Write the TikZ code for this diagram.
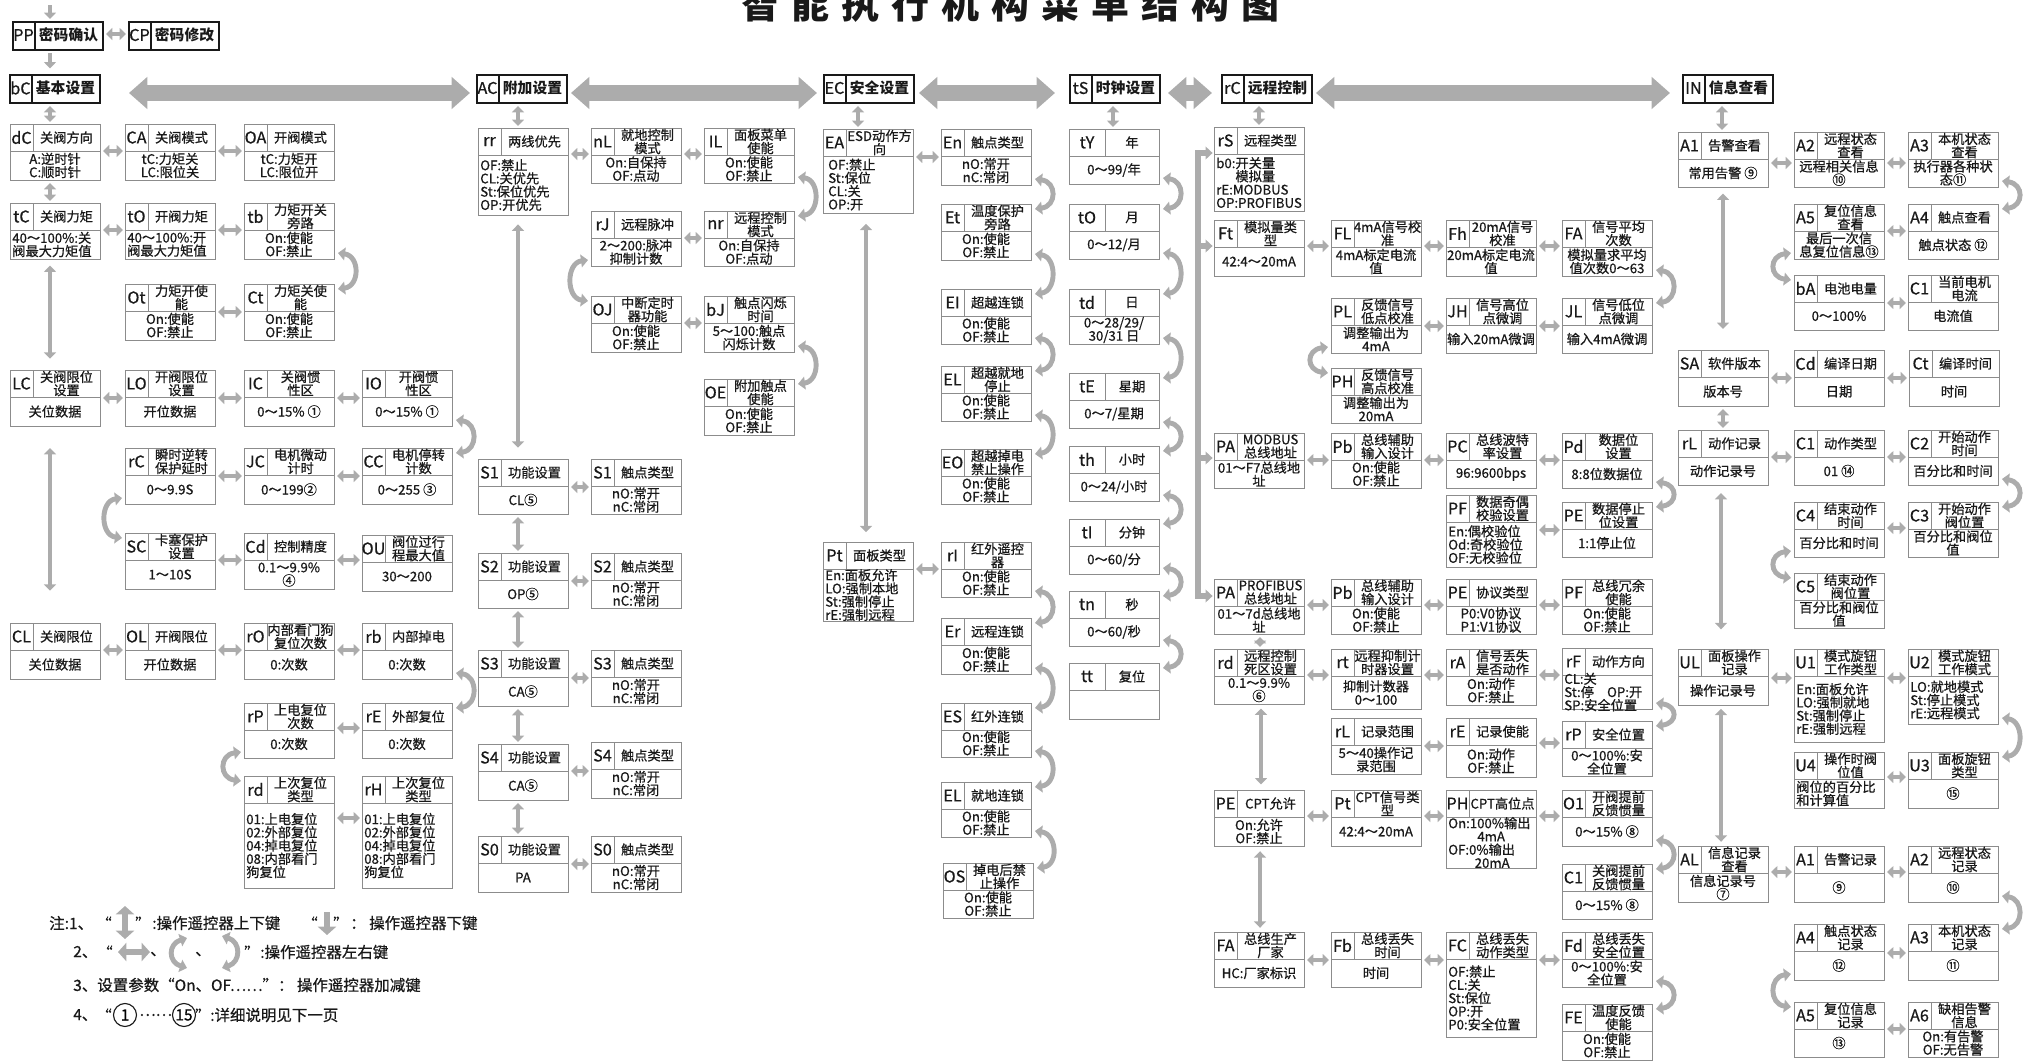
\documentclass[tikz,border=0pt]{standalone}
\usepackage{fontspec}
\setmainfont{Noto Sans CJK SC}
\newfontfamily\cellfont{Noto Sans CJK SC}[FakeBold=0.7]
\usetikzlibrary{arrows.meta}

\definecolor{arrowgray}{RGB}{172,172,172}
\definecolor{boxgray}{RGB}{140,140,140}
\definecolor{inkgray}{RGB}{25,25,25}

% one pixel of the drawing; box width, code cell width, header height
\def\px{0.025cm}
\def\bw{90}
\def\cw{23}
\def\hh{27}

\tikzset{
  cell/.style={rectangle,draw=boxgray,line width=0.7pt,anchor=north west,inner sep=0pt},
  cellline/.style={draw=boxgray,line width=0.7pt},
  topcell/.style={rectangle,draw=inkgray,line width=1.4pt,anchor=north west,inner sep=0pt},
  topline/.style={draw=inkgray,line width=1.4pt},
  celltxt/.style={font=\cellfont\fontsize{9.4}{9.4}\selectfont,text=inkgray,align=center,inner sep=0pt},
  codetxt/.style={font=\cellfont\fontsize{11.5}{11.5}\selectfont,text=inkgray,inner sep=0pt},
  toptxt/.style={font=\fontsize{10.5}{10.5}\selectfont\bfseries,text=inkgray,inner sep=0pt},
  titletxt/.style={font=\fontsize{27}{27}\selectfont\bfseries,text=inkgray,anchor=base,inner sep=0pt},
  notetxt/.style={font=\cellfont\fontsize{11}{11}\selectfont,text=inkgray,anchor=west,inner sep=0pt},
  dlink/.style={draw=arrowgray,line width=3.2pt,>={Triangle[width=8.5pt,length=4.5pt]},<->,shorten <=1.5pt,shorten >=1.5pt},
  clink/.style={draw=arrowgray,line width=3.5pt,>={Triangle[width=9pt,length=5pt]},<->},
  biglink/.style={draw=arrowgray,line width=12pt,>={Triangle[width=22pt,length=13pt]},<->},
  bus/.style={draw=arrowgray,line width=4pt,>={Triangle[width=9pt,length=5pt]}},
  legarrow/.style={draw=arrowgray,line width=4.5pt,>={Triangle[width=13pt,length=6pt]}},
}

% menu box: [c|l]{name}{x,y}{height}{code}{title}{body}
\newcommand{\menuitem}[7][c]{%
  \node[cell,minimum width=\bw*\px,minimum height=#4*\px] (#2) at (#3) {};
  \draw[cellline] ([shift={(0,\hh)}]#2.north west) -- ([shift={(0,\hh)}]#2.north east);
  \draw[cellline] ([shift={(\cw,0)}]#2.north west) -- ([shift={(\cw,\hh)}]#2.north west);
  \node[codetxt] (#2-c) at ([shift={(\cw/2,\hh/2)}]#2.north west) {#5};
  \node[celltxt] (#2-t) at ([shift={({(\bw+\cw)/2},\hh/2)}]#2.north west) {#6};
  \if#1l%
    \node[celltxt,align=left,anchor=west] (#2-b) at ([shift={(2,{(#4+\hh)/2})}]#2.north west) {#7};
  \else
    \node[celltxt] (#2-b) at ([shift={(\bw/2,{(#4+\hh)/2})}]#2.north west) {#7};
  \fi
}
% top menu box: {name}{x,y}{code}{title}
\newcommand{\topitem}[4]{%
  \node[topcell,minimum width=90*\px,minimum height=28*\px] (#1) at (#2) {};
  \draw[topline] ([shift={(23,0)}]#1.north west) -- ([shift={(23,0)}]#1.south west);
  \node[codetxt] (#1-c) at ([shift={(11.5,14)}]#1.north west) {#3};
  \node[toptxt] (#1-t) at ([shift={(56.5,14)}]#1.north west) {#4};
}
\newcommand{\hlink}[3][27]{%
  \path ([shift={(0,#1)}]#2.north east) coordinate (htmp);
  \draw[dlink] (htmp) -- (htmp -| #3.west);
}
\newcommand{\vlink}[4][]{%
  \path ([shift={(#2,0)}]#3.south west) coordinate (vtmp);
  \draw[dlink,#1] (vtmp) -- (vtmp |- #4.north);
}
\newcommand{\rcurve}[2]{\draw[clink] ([shift={(3,-7)}]#1.south east) .. controls +(22,3) and +(22,-3) .. ([shift={(3,5)}]#2.north east);}
\newcommand{\lcurve}[2]{\draw[clink] ([shift={(-3,-7)}]#1.south west) .. controls +(-22,3) and +(-22,-3) .. ([shift={(-3,5)}]#2.north west);}

\begin{document}
\begin{tikzpicture}[x=0.025cm,y=-0.025cm]
  \useasboundingbox (0,0) rectangle (2027,1060);

  % 标题
  \foreach \ch [count=\k] in {智,能,执,行,机,构,菜,单,结,构,图}
    \node[titletxt] (ttl\k) at ({760+(\k-1)*50},18) {\ch};

  % 顶层菜单
  \topitem{pwd}{12,21}{PP}{密码确认}
  \topitem{pwdmod}{128,21}{CP}{密码修改}
  \topitem{basic}{9,74}{bC}{基本设置}
  \topitem{extra}{476,74}{AC}{附加设置}
  \topitem{safety}{823,74}{EC}{安全设置}
  \topitem{clock}{1069,74}{tS}{时钟设置}
  \topitem{remote}{1221,74}{rC}{远程控制}
  \topitem{info}{1682,74}{IN}{信息查看}

  \coordinate (entry) at (50,3);
  \draw[dlink,->] (entry) -- (entry |- pwd.north);
  \hlink[13]{pwd}{pwdmod}
  \vlink[->,shorten >=4pt]{38}{pwd}{basic}
  \draw[biglink] ([shift={(28,4)}]basic.east) -- ([shift={(-6,4)}]extra.west);
  \draw[biglink] ([shift={(3,4)}]extra.east) -- ([shift={(-6,4)}]safety.west);
  \draw[biglink] ([shift={(4,4)}]safety.east) -- ([shift={(-14,4)}]clock.west);
  \draw[biglink] ([shift={(7,4)}]clock.east) -- ([shift={(-9,4)}]remote.west);
  \draw[biglink] ([shift={(3,4)}]remote.east) -- ([shift={(-12,4)}]info.west);

  % 基本设置
  \menuitem{b-dC}{10,124}{56}{dC}{关阀方向}{A:逆时针\\C:顺时针}
  \menuitem{b-CA}{125,124}{56}{CA}{关阀模式}{tC:力矩关\\LC:限位关}
  \menuitem{b-OA}{244,124}{56}{OA}{开阀模式}{tC:力矩开\\LC:限位开}
  \menuitem[l]{b-tC}{10,203}{56}{tC}{关阀力矩}{40～100\%:关\\阀最大力矩值}
  \menuitem[l]{b-tO}{125,203}{56}{tO}{开阀力矩}{40～100\%:开\\阀最大力矩值}
  \menuitem{b-tb}{244,203}{56}{tb}{力矩开关\\旁路}{On:使能\\OF:禁止}
  \menuitem{b-Ot}{125,284}{56}{Ot}{力矩开使\\能}{On:使能\\OF:禁止}
  \menuitem{b-Ct}{244,284}{56}{Ct}{力矩关使\\能}{On:使能\\OF:禁止}
  \menuitem{b-LC}{10,370}{56}{LC}{关阀限位\\设置}{关位数据}
  \menuitem{b-LO}{125,370}{56}{LO}{开阀限位\\设置}{开位数据}
  \menuitem{b-IC}{244,370}{56}{IC}{关阀惯\\性区}{0～15\%\ ①}
  \menuitem{b-IO}{362,370}{56}{IO}{开阀惯\\性区}{0～15\%\ ①}
  \menuitem{b-rC}{125,448}{56}{rC}{瞬时逆转\\保护延时}{0～9.9S}
  \menuitem{b-JC}{244,448}{56}{JC}{电机微动\\计时}{0～199②}
  \menuitem{b-CC}{362,448}{56}{CC}{电机停转\\计数}{0～255\ ③}
  \menuitem{b-SC}{125,533}{56}{SC}{卡塞保护\\设置}{1～10S}
  \menuitem{b-Cd}{244,533}{56}{Cd}{控制精度}{0.1～9.9\%\\④}
  \menuitem{b-OU}{362,535}{56}{OU}{阀位过行\\程最大值}{30～200}
  \menuitem{b-CL}{10,623}{56}{CL}{关阀限位}{关位数据}
  \menuitem{b-OL}{125,623}{56}{OL}{开阀限位}{开位数据}
  \menuitem{b-rO}{244,623}{56}{rO}{内部看门狗\\复位次数}{0:次数}
  \menuitem{b-rb}{362,623}{56}{rb}{内部掉电}{0:次数}
  \menuitem{b-rP}{244,703}{55}{rP}{上电复位\\次数}{0:次数}
  \menuitem{b-rE}{362,703}{55}{rE}{外部复位}{0:次数}
  \menuitem[l]{b-rd}{244,776}{112}{rd}{上次复位\\类型}{01:上电复位\\02:外部复位\\04:掉电复位\\08:内部看门\\狗复位}
  \menuitem[l]{b-rH}{362,776}{112}{rH}{上次复位\\类型}{01:上电复位\\02:外部复位\\04:掉电复位\\08:内部看门\\狗复位}

  \vlink{41}{basic}{b-dC}
  \vlink{40}{b-dC}{b-tC}
  \vlink[shorten <=4pt,shorten >=8pt]{40}{b-tC}{b-LC}
  \vlink[shorten <=15pt,shorten >=23pt]{40}{b-LC}{b-CL}
  \hlink{b-dC}{b-CA} \hlink{b-CA}{b-OA}
  \hlink{b-tC}{b-tO} \hlink{b-tO}{b-tb}
  \hlink[28]{b-Ot}{b-Ct}
  \hlink[28]{b-LC}{b-LO} \hlink[28]{b-LO}{b-IC} \hlink[28]{b-IC}{b-IO}
  \hlink[28]{b-rC}{b-JC} \hlink[28]{b-JC}{b-CC}
  \hlink{b-SC}{b-Cd} \hlink{b-Cd}{b-OU}
  \hlink{b-CL}{b-OL} \hlink{b-OL}{b-rO} \hlink{b-rO}{b-rb}
  \hlink[25]{b-rP}{b-rE}
  \hlink[42]{b-rd}{b-rH}
  \rcurve{b-tb}{b-Ct}
  \rcurve{b-IO}{b-CC}
  \lcurve{b-rC}{b-SC}
  \rcurve{b-rb}{b-rE}
  \lcurve{b-rP}{b-rd}

  % 附加设置
  \menuitem[l]{a-rr}{478,128}{87}{rr}{两线优先}{OF:禁止\\CL:关优先\\St:保位优先\\OP:开优先}
  \menuitem{a-nL}{591,128}{55}{nL}{就地控制\\模式}{On:自保持\\OF:点动}
  \menuitem{a-IL}{704,128}{55}{IL}{面板菜单\\使能}{On:使能\\OF:禁止}
  \menuitem{a-rJ}{591,211}{55}{rJ}{远程脉冲}{2～200:脉冲\\抑制计数}
  \menuitem{a-nr}{704,211}{55}{nr}{远程控制\\模式}{On:自保持\\OF:点动}
  \menuitem{a-OJ}{591,296}{56}{OJ}{中断定时\\器功能}{On:使能\\OF:禁止}
  \menuitem{a-bJ}{704,296}{56}{bJ}{触点闪烁\\时间}{5～100:触点\\闪烁计数}
  \menuitem{a-OE}{704,379}{56}{OE}{附加触点\\使能}{On:使能\\OF:禁止}
  \menuitem{a-S1f}{478,459}{55}{S1}{功能设置}{CL⑤}
  \menuitem{a-S1}{591,459}{55}{S1}{触点类型}{nO:常开\\nC:常闭}
  \menuitem{a-S2f}{478,553}{55}{S2}{功能设置}{OP⑤}
  \menuitem{a-S2}{591,553}{55}{S2}{触点类型}{nO:常开\\nC:常闭}
  \menuitem{a-S3f}{478,650}{56}{S3}{功能设置}{CA⑤}
  \menuitem{a-S3}{591,650}{56}{S3}{触点类型}{nO:常开\\nC:常闭}
  \menuitem{a-S4f}{478,744}{56}{S4}{功能设置}{CA⑤}
  \menuitem{a-S4}{591,742}{56}{S4}{触点类型}{nO:常开\\nC:常闭}
  \menuitem{a-S0f}{478,836}{56}{S0}{功能设置}{PA}
  \menuitem{a-S0}{591,836}{56}{S0}{触点类型}{nO:常开\\nC:常闭}

  \vlink{42}{extra}{a-rr}
  \vlink[shorten <=6pt,shorten >=8pt]{40}{a-rr}{a-S1f}
  \vlink{40}{a-S1f}{a-S2f}
  \vlink{40}{a-S2f}{a-S3f}
  \vlink{40}{a-S3f}{a-S4f}
  \vlink{40}{a-S4f}{a-S0f}
  \hlink[26]{a-rr}{a-nL} \hlink[26]{a-nL}{a-IL}
  \hlink{a-rJ}{a-nr}
  \hlink{a-OJ}{a-bJ}
  \hlink[28]{a-S1f}{a-S1}
  \hlink[28]{a-S2f}{a-S2}
  \hlink[28]{a-S3f}{a-S3}
  \hlink[27]{a-S4f}{a-S4}
  \hlink[28]{a-S0f}{a-S0}
  \rcurve{a-IL}{a-nr}
  \lcurve{a-rJ}{a-OJ}
  \rcurve{a-bJ}{a-OE}

  % 安全设置
  \menuitem[l]{e-EA}{823,129}{84}{EA}{ESD动作方\\向}{\ OF:禁止\\\ St:保位\\\ CL:关\\\ OP:开}
  \menuitem{e-En}{941,129}{56}{En}{触点类型}{nO:常开\\nC:常闭}
  \menuitem{e-Et}{941,204}{56}{Et}{温度保护\\旁路}{On:使能\\OF:禁止}
  \menuitem{e-EI}{941,289}{55}{EI}{超越连锁}{On:使能\\OF:禁止}
  \menuitem{e-EL}{941,366}{55}{EL}{超越就地\\停止}{On:使能\\OF:禁止}
  \menuitem{e-EO}{941,449}{55}{EO}{超越掉电\\禁止操作}{On:使能\\OF:禁止}
  \menuitem[l]{e-Pt}{823,542}{79}{Pt}{面板类型}{En:面板允许\\LO:强制本地\\St:强制停止\\rE:强制远程}
  \menuitem{e-rI}{941,542}{55}{rI}{红外遥控\\器}{On:使能\\OF:禁止}
  \menuitem{e-Er}{941,618}{56}{Er}{远程连锁}{On:使能\\OF:禁止}
  \menuitem{e-ES}{941,703}{54}{ES}{红外连锁}{On:使能\\OF:禁止}
  \menuitem{e-ELb}{941,782}{55}{EL}{就地连锁}{On:使能\\OF:禁止}
  \menuitem{e-OS}{943,863}{55}{OS}{掉电后禁\\止操作}{On:使能\\OF:禁止}

  \vlink{35}{safety}{e-EA}
  \vlink[shorten <=7pt,shorten >=7pt]{43}{e-EA}{e-Pt}
  \hlink[28]{e-EA}{e-En}
  \hlink{e-Pt}{e-rI}
  \rcurve{e-En}{e-Et}
  \rcurve{e-Et}{e-EI}
  \rcurve{e-EI}{e-EL}
  \rcurve{e-EL}{e-EO}
  \rcurve{e-rI}{e-Er}
  \rcurve{e-Er}{e-ES}
  \rcurve{e-ES}{e-ELb}
  \rcurve{e-ELb}{e-OS}

  % 时钟设置
  \begin{scope}
    \def\cw{36}
    \menuitem{t-tY}{1069,129}{55}{tY}{年}{0～99/年}
    \menuitem{t-tO}{1069,204}{55}{tO}{月}{0～12/月}
    \menuitem{t-td}{1069,289}{55}{td}{日}{0～28/29/\\30/31 日}
    \menuitem{t-tE}{1069,373}{55}{tE}{星期}{0～7/星期}
    \menuitem{t-th}{1069,446}{55}{th}{小时}{0～24/小时}
    \menuitem{t-tI}{1069,519}{55}{tI}{分钟}{0～60/分}
    \menuitem{t-tn}{1069,591}{55}{tn}{秒}{0～60/秒}
    \menuitem{t-tt}{1069,663}{56}{tt}{复位}{}
  \end{scope}
  \vlink{44}{clock}{t-tY}
  \rcurve{t-tY}{t-tO}
  \rcurve{t-tO}{t-td}
  \rcurve{t-td}{t-tE}
  \rcurve{t-tE}{t-th}
  \rcurve{t-th}{t-tI}
  \rcurve{t-tI}{t-tn}
  \rcurve{t-tn}{t-tt}

  % 远程控制
  \menuitem[l]{r-rS}{1214,127}{84}{rS}{远程类型}{b0:开关量\\\phantom{b0:}模拟量\\rE:MODBUS\\OP:PROFIBUS}
  \menuitem{r-Ft}{1214,220}{56}{Ft}{模拟量类\\型}{42:4～20mA}
  \menuitem{r-FL}{1331,220}{56}{FL}{4mA信号校\\准}{4mA标定电流\\值}
  \menuitem{r-Fh}{1446,220}{56}{Fh}{20mA信号\\校准}{20mA标定电流\\值}
  \menuitem{r-FA}{1562,220}{56}{FA}{信号平均\\次数}{模拟量求平均\\值次数0～63}
  \menuitem{r-PL}{1331,298}{55}{PL}{反馈信号\\低点校准}{调整输出为\\4mA}
  \menuitem{r-JH}{1446,298}{55}{JH}{信号高位\\点微调}{输入20mA微调}
  \menuitem{r-JL}{1562,298}{55}{JL}{信号低位\\点微调}{输入4mA微调}
  \menuitem{r-PH}{1331,368}{55}{PH}{反馈信号\\高点校准}{调整输出为\\20mA}
  \menuitem{r-PAm}{1214,433}{55}{PA}{MODBUS\\总线地址}{01～F7总线地\\址}
  \menuitem{r-Pbm}{1331,433}{55}{Pb}{总线辅助\\输入设计}{On:使能\\OF:禁止}
  \menuitem{r-PC}{1446,433}{55}{PC}{总线波特\\率设置}{96:9600bps}
  \menuitem{r-Pd}{1562,433}{55}{Pd}{数据位\\设置}{8:8位数据位}
  \menuitem[l]{r-PF}{1446,495}{72}{PF}{数据奇偶\\校验设置}{En:偶校验位\\Od:奇校验位\\OF:无校验位}
  \menuitem{r-PE}{1562,502}{55}{PE}{数据停止\\位设置}{1:1停止位}
  \menuitem{r-PAp}{1214,579}{55}{PA}{PROFIBUS\\总线地址}{01～7d总线地\\址}
  \menuitem{r-Pbp}{1331,579}{55}{Pb}{总线辅助\\输入设计}{On:使能\\OF:禁止}
  \menuitem{r-PEp}{1446,579}{55}{PE}{协议类型}{P0:V0协议\\P1:V1协议}
  \menuitem{r-PFp}{1562,579}{55}{PF}{总线冗余\\使能}{On:使能\\OF:禁止}
  \menuitem{r-rd}{1214,649}{55}{rd}{远程控制\\死区设置}{0.1～9.9\%\\⑥}
  \menuitem{r-rt}{1331,649}{60}{rt}{远程抑制计\\时器设置}{抑制计数器\\0～100}
  \menuitem{r-rA}{1446,649}{56}{rA}{信号丢失\\是否动作}{On:动作\\OF:禁止}
  \menuitem[l]{r-rF}{1562,648}{61}{rF}{动作方向}{CL:关\\St:停\quad OP:开\\SP:安全位置}
  \menuitem{r-rL}{1331,718}{56}{rL}{记录范围}{5～40操作记\\录范围}
  \menuitem{r-rE}{1446,718}{59}{rE}{记录使能}{On:动作\\OF:禁止}
  \menuitem{r-rP}{1562,721}{55}{rP}{安全位置}{0～100\%:安\\全位置}
  \menuitem{r-PEc}{1214,790}{56}{PE}{CPT允许}{On:允许\\OF:禁止}
  \menuitem{r-Ptc}{1331,790}{56}{Pt}{CPT信号类\\型}{42:4～20mA}
  \menuitem[l]{r-PHc}{1446,790}{78}{PH}{CPT高位点}{On:100\%输出\\\hspace*{2.2em}4mA\\OF:0\%输出\\\hspace*{2em}20mA}
  \menuitem{r-O1}{1562,790}{56}{O1}{开阀提前\\反馈惯量}{0～15\%\ ⑧}
  \menuitem{r-C1}{1562,864}{55}{C1}{关阀提前\\反馈惯量}{0～15\%\ ⑧}
  \menuitem{r-FAb}{1214,932}{55}{FA}{总线生产\\厂家}{HC:厂家标识}
  \menuitem{r-Fb}{1331,932}{55}{Fb}{总线丢失\\时间}{时间}
  \menuitem[l]{r-FC}{1446,932}{105}{FC}{总线丢失\\动作类型}{OF:禁止\\CL:关\\St:保位\\OP:开\\P0:安全位置}
  \menuitem{r-Fd}{1562,932}{55}{Fd}{总线丢失\\安全位置}{0～100\%:安\\全位置}
  \menuitem{r-FE}{1562,1004}{56}{FE}{温度反馈\\使能}{On:使能\\OF:禁止}

  \vlink{38}{remote}{r-rS}
  \vlink{46}{r-PAp}{r-rd}
  \vlink[shorten <=2.5pt,shorten >=4pt]{47}{r-rd}{r-PEc}
  \vlink[shorten <=3pt,shorten >=3pt]{46}{r-PEc}{r-FAb}
  \path ([shift={(-16,26)}]r-rS.north west) coordinate (busT);
  \path ([shift={(-16,17)}]r-PAp.north west) coordinate (busB);
  \path ([shift={(0,26)}]r-Ft.north west) coordinate (busF);
  \path ([shift={(0,25)}]r-PAm.north west) coordinate (busM);
  \draw[bus,<->,shorten <=1pt,shorten >=1pt] (busT -| r-rS.west) -- (busT) -- (busB) -- (busB -| r-PAp.west);
  \draw[bus,->,shorten >=1pt] (busF -| busT) -- (busF);
  \draw[bus,->,shorten >=1pt] (busM -| busT) -- (busM);
  \hlink[26]{r-Ft}{r-FL} \hlink[26]{r-FL}{r-Fh} \hlink[26]{r-Fh}{r-FA}
  \hlink[28]{r-PL}{r-JH} \hlink[28]{r-JH}{r-JL}
  \hlink{r-PAm}{r-Pbm} \hlink{r-Pbm}{r-PC} \hlink{r-PC}{r-Pd}
  \hlink[35]{r-PF}{r-PE}
  \hlink[26]{r-PAp}{r-Pbp} \hlink[26]{r-Pbp}{r-PEp} \hlink[26]{r-PEp}{r-PFp}
  \hlink[26]{r-rd}{r-rt} \hlink[26]{r-rt}{r-rA} \hlink[26]{r-rA}{r-rF}
  \hlink[28]{r-rL}{r-rE} \hlink[25]{r-rE}{r-rP}
  \hlink[26]{r-PEc}{r-Ptc} \hlink[26]{r-Ptc}{r-PHc} \hlink[26]{r-PHc}{r-O1}
  \hlink[28]{r-FAb}{r-Fb} \hlink[28]{r-Fb}{r-FC} \hlink[28]{r-FC}{r-Fd}
  \rcurve{r-FA}{r-JL}
  \lcurve{r-PL}{r-PH}
  \rcurve{r-Pd}{r-PE}
  \rcurve{r-rF}{r-rP}
  \rcurve{r-O1}{r-C1}
  \rcurve{r-Fd}{r-FE}

  % 信息查看
  \menuitem{i-A1}{1678,132}{55}{A1}{告警查看}{常用告警\ ⑨}
  \menuitem{i-A2}{1794,132}{55}{A2}{远程状态\\查看}{远程相关信息\\⑩}
  \menuitem{i-A3}{1908,132}{55}{A3}{本机状态\\查看}{执行器各种状\\态⑪}
  \menuitem{i-A5}{1794,204}{55}{A5}{复位信息\\查看}{最后一次信\\息复位信息⑬}
  \menuitem{i-A4}{1908,204}{55}{A4}{触点查看}{触点状态\ ⑫}
  \menuitem{i-bA}{1794,275}{55}{bA}{电池电量}{0～100\%}
  \menuitem{i-C1}{1908,275}{55}{C1}{当前电机\\电流}{电流值}
  \menuitem{i-SA}{1678,350}{56}{SA}{软件版本}{版本号}
  \menuitem{i-Cd}{1794,350}{56}{Cd}{编译日期}{日期}
  \menuitem{i-Ct}{1909,350}{56}{Ct}{编译时间}{时间}
  \menuitem{i-rL}{1678,430}{55}{rL}{动作记录}{动作记录号}
  \menuitem{i-C1a}{1794,430}{55}{C1}{动作类型}{01\ ⑭}
  \menuitem{i-C2}{1908,430}{55}{C2}{开始动作\\时间}{百分比和时间}
  \menuitem{i-C4}{1794,502}{55}{C4}{结束动作\\时间}{百分比和时间}
  \menuitem{i-C3}{1908,502}{55}{C3}{开始动作\\阀位置}{百分比和阀位\\值}
  \menuitem{i-C5}{1794,573}{55}{C5}{结束动作\\阀位置}{百分比和阀位\\值}
  \menuitem{i-UL}{1678,649}{56}{UL}{面板操作\\记录}{操作记录号}
  \menuitem[l]{i-U1}{1794,649}{93}{U1}{模式旋钮\\工作类型}{En:面板允许\\LO:强制就地\\St:强制停止\\rE:强制远程}
  \menuitem[l]{i-U2}{1908,649}{75}{U2}{模式旋钮\\工作模式}{LO:就地模式\\St:停止模式\\rE:远程模式}
  \menuitem[l]{i-U4}{1794,752}{56}{U4}{操作时阀\\位值}{阀位的百分比\\和计算值}
  \menuitem{i-U3}{1908,752}{56}{U3}{面板旋钮\\类型}{⑮}
  \menuitem{i-AL}{1678,846}{56}{AL}{信息记录\\查看}{信息记录号\\⑦}
  \menuitem{i-A1r}{1794,846}{56}{A1}{告警记录}{⑨}
  \menuitem{i-A2r}{1908,846}{56}{A2}{远程状态\\记录}{⑩}
  \menuitem{i-A4r}{1794,924}{56}{A4}{触点状态\\记录}{⑫}
  \menuitem{i-A3r}{1908,924}{56}{A3}{本机状态\\记录}{⑪}
  \menuitem{i-A5r}{1794,1002}{55}{A5}{复位信息\\记录}{⑬}
  \menuitem{i-A6}{1908,1002}{55}{A6}{缺相告警\\信息}{On:有告警\\OF:无告警}

  \vlink{40}{info}{i-A1}
  \vlink[shorten <=4pt,shorten >=15pt]{45}{i-A1}{i-SA}
  \vlink{45}{i-SA}{i-rL}
  \vlink[shorten <=5pt,shorten >=14pt]{43}{i-rL}{i-UL}
  \vlink[shorten <=2pt,shorten >=3pt]{43}{i-UL}{i-AL}
  \hlink[31]{i-A1}{i-A2} \hlink[31]{i-A2}{i-A3}
  \hlink{i-A5}{i-A4}
  \hlink[28]{i-bA}{i-C1}
  \hlink[28]{i-SA}{i-Cd} \hlink[28]{i-Cd}{i-Ct}
  \hlink{i-rL}{i-C1a} \hlink{i-C1a}{i-C2}
  \hlink[26]{i-C4}{i-C3}
  \hlink[29]{i-UL}{i-U1} \hlink[29]{i-U1}{i-U2}
  \hlink[25]{i-U4}{i-U3}
  \hlink[26]{i-AL}{i-A1r} \hlink[26]{i-A1r}{i-A2r}
  \hlink[29]{i-A4r}{i-A3r}
  \hlink{i-A5r}{i-A6}
  \rcurve{i-A3}{i-A4}
  \lcurve{i-A5}{i-bA}
  \rcurve{i-C2}{i-C3}
  \lcurve{i-C4}{i-C5}
  \rcurve{i-U2}{i-U3}
  \rcurve{i-A2r}{i-A3r}
  \lcurve{i-A4r}{i-A5r}

  % 注
  \node[notetxt] (n1a) at (49,923) {注:1、};
  \node[notetxt,anchor=center] (n1b) at (104,923) {“};
  \draw[legarrow,<->] (125,906) -- (125,939);
  \node[notetxt,anchor=center] (n1c) at (143,923) {”};
  \node[notetxt] (n1d) at (152,923) {:操作遥控器上下键};
  \node[notetxt,anchor=center] (n1e) at (310,923) {“};
  \draw[legarrow,->] (327,912) -- (327,935);
  \node[notetxt,anchor=center] (n1f) at (341,923) {”};
  \node[notetxt] (n1g) at (350,923) {：\ 操作遥控器下键};

  \node[notetxt] (n2a) at (73,952) {2、};
  \node[notetxt,anchor=center] (n2b) at (105,952) {“};
  \draw[legarrow,<->] (118,952) -- (150,952);
  \node[notetxt,anchor=center] (n2c) at (158,954) {、};
  \draw[clink] (187,938) .. controls (168,944) and (168,962) .. (187,968);
  \node[notetxt,anchor=center] (n2d) at (203,954) {、};
  \draw[clink] (222,936) .. controls (241,942) and (241,962) .. (222,968);
  \node[notetxt,anchor=center] (n2e) at (252,952) {”};
  \node[notetxt] (n2f) at (260,952) {:操作遥控器左右键};

  \node[notetxt] (n3) at (73,985) {3、设置参数“On、OF……”：\ 操作遥控器加减键};

  \node[notetxt] (n4a) at (73,1015) {4、};
  \node[notetxt,anchor=center] (n4b) at (104,1015) {“};
  \node[draw=inkgray,circle,line width=0.8pt,inner sep=0pt,minimum size=23*\px,font=\cellfont\fontsize{11}{11}\selectfont] (n4c) at (125,1015) {1};
  \node[notetxt] (n4d) at (139,1015) {……};
  \node[draw=inkgray,circle,line width=0.8pt,inner sep=0pt,minimum size=23*\px,font=\cellfont\fontsize{11}{11}\selectfont] (n4e) at (184,1015) {15};
  \node[notetxt,anchor=center] (n4f) at (203,1015) {”};
  \node[notetxt] (n4g) at (210,1015) {:详细说明见下一页};
\end{tikzpicture}
\end{document}
